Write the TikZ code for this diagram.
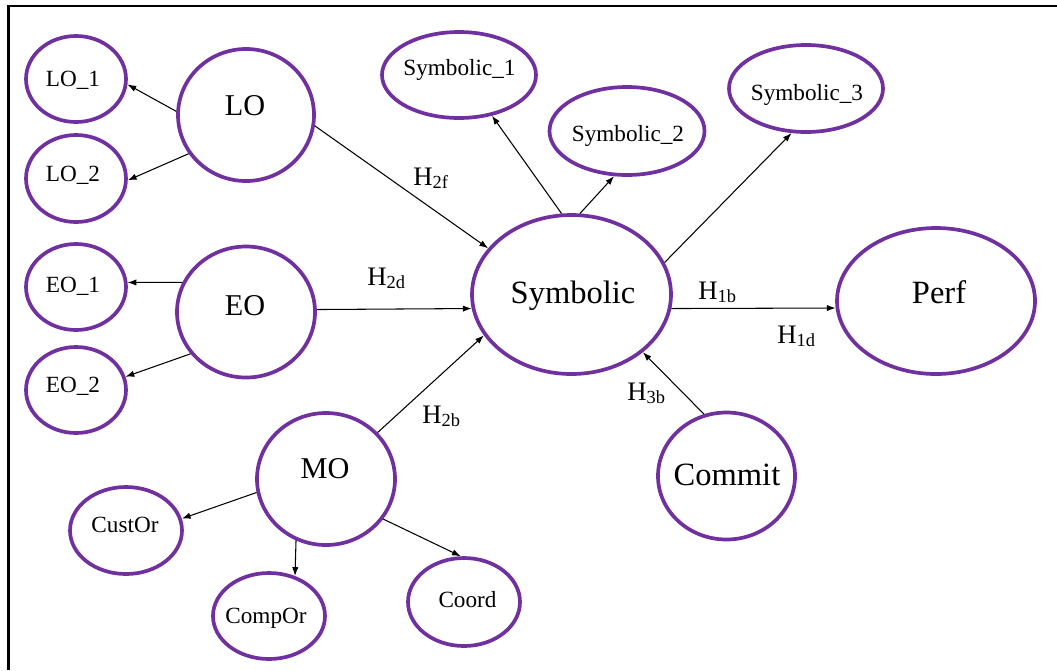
\documentclass[tikz,border=0pt]{standalone}
\usepackage{fontspec}
\setmainfont{Liberation Serif}
\usetikzlibrary{shapes.geometric,arrows.meta}
\definecolor{ringpurple}{HTML}{7030A0}
\tikzset{
  ell/.style 2 args={ellipse, draw=ringpurple, line width=2.1pt, fill=white,
    minimum width=#1*0.02cm, minimum height=#2*0.02cm, inner sep=0pt},
  bigtxt/.style={anchor=base, inner sep=0pt, font=\fontsize{18.5}{20}\selectfont},
  midtxt/.style={anchor=base, inner sep=0pt, font=\fontsize{17.2}{19}\selectfont},
  smalltxt/.style={anchor=base, inner sep=0pt, font=\fontsize{13.2}{15}\selectfont},
  hyp/.style={anchor=base west, inner sep=0pt, font=\fontsize{15.2}{17}\selectfont},
  conn/.style={draw=black, line width=0.6pt, -{Latex[length=5pt,width=3.6pt]}},
}
\newcommand{\hsub}[1]{H\raisebox{-2pt}{\fontsize{10.5}{11}\selectfont #1}}
\begin{document}
\begin{tikzpicture}[x=0.02cm, y=-0.02cm]
  \useasboundingbox (0,0) rectangle (1057,670);
  \fill[white] (0,0) rectangle (1057,670);
  % frame on the left and top edges
  \draw[line width=1.4pt] (8.5,670) -- (8.5,6) -- (1057,6);

  % construct ellipses
  \node[ell={100}{86}]  (lo1)  at (76,79)    {};
  \node[ell={100}{87}]  (lo2)  at (76,178.5) {};
  \node[ell={136}{132}] (lo)   at (246,115)  {};
  \node[ell={100}{86}]  (eo1)  at (76,287)   {};
  \node[ell={100}{86}]  (eo2)  at (76,390)   {};
  \node[ell={138}{131}] (eo)   at (246,312)  {};
  \node[ell={154}{86}]  (sym1) at (459,75)   {};
  \node[ell={155}{88}]  (sym2) at (627,131)  {};
  \node[ell={154}{87}]  (sym3) at (806,88.5) {};
  \node[ell={199}{159}] (sym)  at (571.5,294.5) {};
  \node[ell={198}{146}] (perf) at (936,301)  {};
  \node[ell={137}{127}] (com)  at (726.5,476) {};
  \node[ell={138}{132}] (mo)   at (326,479)  {};
  \node[ell={112}{87}]  (cust) at (126,530.5) {};
  \node[ell={112}{86}]  (comp) at (269,616)  {};
  \node[ell={112}{88}]  (coord) at (464,602) {};

  % labels inside the ellipses
  \node[smalltxt] (tlo1)  at (73,86)    {LO\_1};
  \node[smalltxt] (tlo2)  at (73,181)   {LO\_2};
  \node[midtxt]   (tlo)   at (245,115)  {LO};
  \node[smalltxt] (teo1)  at (73,292)   {EO\_1};
  \node[smalltxt] (teo2)  at (73,392)   {EO\_2};
  \node[midtxt]   (teo)   at (245,315)  {EO};
  \node[smalltxt] (tsym1) at (459.5,75) {Symbolic\_1};
  \node[smalltxt] (tsym2) at (628,141)  {Symbolic\_2};
  \node[smalltxt] (tsym3) at (807,100)  {Symbolic\_3};
  \node[bigtxt]   (tsym)  at (573,303)  {Symbolic};
  \node[bigtxt]   (tperf) at (939,303)  {Perf};
  \node[bigtxt]   (tcom)  at (727,485)  {Commit};
  \node[midtxt]   (tmo)   at (325,478)  {MO};
  \node[smalltxt] (tcust) at (125,532)  {CustOr};
  \node[smalltxt] (tcomp) at (266,623)  {CompOr};
  \node[smalltxt] (tcoord) at (467.5,607) {Coord};

  % indicator arrows
  \draw[conn] (lo.177.4) -- (lo1.354.5);
  \draw[conn] (lo.214.2) -- (lo2.358.3);
  \draw[conn] (eo.155.9) -- (eo1.5.5);
  \draw[conn] (eo.217.8) -- (eo2.15.1);
  \draw[conn] (mo.191.8) -- (cust.12.6);
  \draw[conn] (mo.244.3) -- (comp.57);
  \draw[conn] (mo.325.9) -- (coord.94.3);
  \draw[conn] (sym.97.3) -- (sym1.309.4);
  \draw[conn] (sym.84.1) -- (sym2.254.6);
  \draw[conn] (sym.19)   -- (sym3.252.3);

  % hypothesised paths
  \draw[conn] (lo.351.5) -- (sym.151.3);
  \draw[conn] (eo.2.5)   -- (sym.188.3);
  \draw[conn] (mo.42.6)  -- (sym.205.9);
  \draw[conn] (sym.352.3) -- (perf.184.5);
  \draw[conn] (com.110.4) -- (sym.321.2);

  % path labels
  \node[hyp] (h2f) at (413,185) {\hsub{2f}};
  \node[hyp] (h2d) at (367,285) {\hsub{2d}};
  \node[hyp] (h2b) at (422,423) {\hsub{2b}};
  \node[hyp] (h1b) at (698,299) {\hsub{1b}};
  \node[hyp] (h1d) at (777,343) {\hsub{1d}};
  \node[hyp] (h3b) at (627,400) {\hsub{3b}};
\end{tikzpicture}
\end{document}
